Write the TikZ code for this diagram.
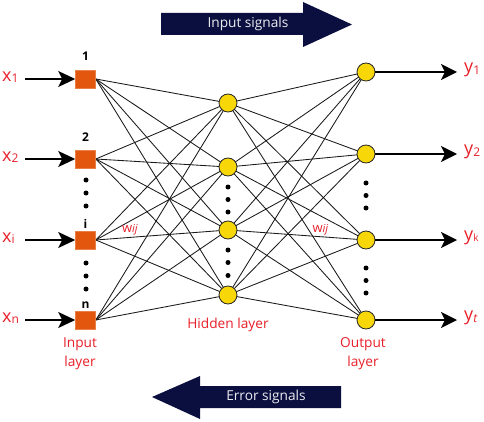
\documentclass[tikz,border=0pt]{standalone}
\usepackage{fontspec}
\setmainfont{Open Sans}
\usetikzlibrary{arrows.meta,backgrounds}
\definecolor{navy}{HTML}{0B0F3F}
\definecolor{lred}{HTML}{E8202A}
\definecolor{sqc}{HTML}{E2560E}
\definecolor{yel}{HTML}{F7D708}
\newcommand{\sbs}[1]{{\fontsize{12}{12}\selectfont\raisebox{-1.5pt}{#1}}}
\begin{document}
\begin{tikzpicture}[x=1pt,y=-1pt,
  insq/.style={draw=sqc!75!white, fill=sqc, minimum width=20pt, minimum height=18pt, inner sep=0pt, line width=0.6pt},
  neuron/.style={circle, draw=black!85, fill=yel, minimum size=18pt, inner sep=0pt, line width=0.8pt},
  dotn/.style={circle, fill=black, minimum size=5pt, inner sep=0pt},
  varlbl/.style={text=lred, font=\fontsize{18}{18}\selectfont, inner sep=0pt},
  layerlbl/.style={text=lred, font=\fontsize{13.7}{19}\selectfont, align=center, inner sep=0pt},
  numlbl/.style={font=\fontsize{12}{12}\selectfont\bfseries, inner sep=0pt},
  wlbl/.style={text=lred, font=\fontsize{13}{13}\selectfont, inner sep=0pt},
  wire/.style={line width=0.85pt, black!90},
  inarrow/.style={line width=1.8pt, -{Stealth[length=17pt,width=16pt,inset=4pt]}},
  outarrow/.style={line width=1.8pt, -{Stealth[length=16pt,width=16pt,inset=4pt]}},
  bigarrow/.style={fill=navy},
  arrowtext/.style={text=white!92!navy, font=\fontsize{13.7}{13.7}\selectfont, inner sep=0pt}
]
\useasboundingbox (0,0) rectangle (484,422);

% big arrows
\fill[bigarrow] (161,13) -- (303,13) -- (303,2) -- (352,24.5) -- (303,47) -- (303,35) -- (161,35) -- cycle;
\node[arrowtext] (insig) at (248,23.5) {Input signals};
\fill[bigarrow] (341,386) -- (200,386) -- (200,376) -- (152,397) -- (200,419) -- (200,408) -- (341,408) -- cycle;
\node[arrowtext] (errsig) at (266,397) {Error signals};

% input layer
\node[insq] (i1) at (85.5,79) {};
\node[insq] (i2) at (85.5,159) {};
\node[insq] (i3) at (85.5,240) {};
\node[insq] (i4) at (85.5,320) {};
% hidden layer
\node[neuron] (h1) at (228,103) {};
\node[neuron] (h2) at (228,167) {};
\node[neuron] (h3) at (228,230) {};
\node[neuron] (h4) at (228,295) {};
% output layer
\node[neuron] (o1) at (366,72) {};
\node[neuron] (o2) at (366,154) {};
\node[neuron] (o3) at (366,240) {};
\node[neuron] (o4) at (366,320) {};

% connections (behind the nodes)
\begin{pgfonlayer}{background}
\foreach \a in {1,2,3,4}{
  \foreach \b in {1,2,3,4}{
    \draw[wire] (i\a.east) -- (h\b.center);
    \draw[wire] (h\a.center) -- (o\b.center);
  }
}
\end{pgfonlayer}

% dots
\foreach \y [count=\k] in {180,193,206,263,276,289}{ \node[dotn] (di\k) at (86,\y) {}; }
\foreach \y [count=\k] in {187,199.5,212,250,262.5,275.5}{ \node[dotn] (dh\k) at (228,\y) {}; }
\foreach \y [count=\k] in {183,195.5,208,268,280.5,293}{ \node[dotn] (do\k) at (366,\y) {}; }

% numbers
\node[numlbl] (n1) at (85.5,56) {1};
\node[numlbl] (n2) at (85.5,137) {2};
\node[numlbl] (n3) at (85.5,224) {i};
\node[numlbl] (n4) at (85.5,305) {n};

% input arrows and labels
\node[varlbl, anchor=west] (x1) at (2,77) {x\sbs{1}};
\node[varlbl, anchor=west] (x2) at (2,157) {x\sbs{2}};
\node[varlbl, anchor=west] (x3) at (2,238) {x\sbs{i}};
\node[varlbl, anchor=west] (x4) at (2,318) {x\sbs{n}};
\coordinate (xs1) at (25,79);
\coordinate (xs2) at (25,159);
\coordinate (xs3) at (25,240);
\coordinate (xs4) at (25,320);
\foreach \k in {1,2,3,4}{ \draw[inarrow] (xs\k) -- (i\k.west); }

% output arrows and labels
\coordinate (ye1) at (457,72);
\coordinate (ye2) at (457,154);
\coordinate (ye3) at (457,240);
\coordinate (ye4) at (457,320);
\foreach \k in {1,2,3,4}{ \draw[outarrow] (o\k.east) -- (ye\k); }
\node[varlbl, anchor=west] (y1) at (464,70) {y\sbs{1}};
\node[varlbl, anchor=west] (y2) at (464,152) {y\sbs{2}};
\node[varlbl, anchor=west] (y3) at (464,238) {y{\fontsize{10}{10}\selectfont\raisebox{-1pt}{\textsc{k}}}};
\node[varlbl, anchor=west] (y4) at (464,318) {y\sbs{\textit{t}}};

% weights
\node[wlbl] (w1) at (130,229.5) {w{\fontsize{11}{11}\selectfont\textit{ij}}};
\node[wlbl] (w2) at (320.5,230) {w{\fontsize{11}{11}\selectfont\textit{ij}}};

% layer labels
\node[layerlbl] (il) at (80,354) {Input\\layer};
\node[layerlbl] (hl) at (228,325) {Hidden layer};
\node[layerlbl] (ol) at (363,354) {Output\\layer};
\end{tikzpicture}
\end{document}
